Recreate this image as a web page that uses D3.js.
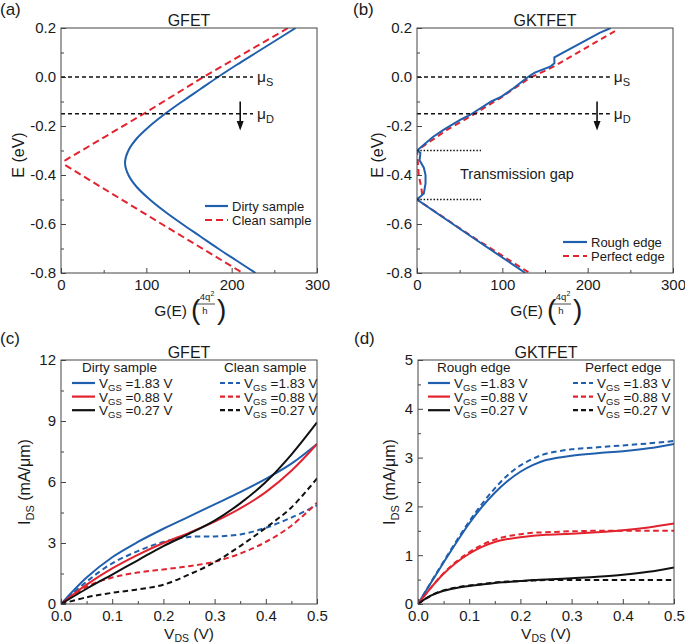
<!DOCTYPE html>
<html>
<head>
<meta charset="utf-8">
<script src="https://cdn.jsdelivr.net/npm/d3@7"></script>
<style>
  body { margin: 0; background: #fff; }
  svg { display: block; font-family: Arial, "Liberation Sans", sans-serif; }
</style>
</head>
<body>
<svg id="fig" width="685" height="644"></svg>
<script>
// ---- data ----
// (a) GFET transmission, [E (eV), G]
const dirtySample = [[0.2,275],[0.15,252],[0.1,229],[0.05,206],[0,184],[-0.05,163],[-0.1,142],[-0.15,122],[-0.2,104],[-0.25,89],[-0.3,79],[-0.35,75],[-0.4,79],[-0.45,89],[-0.5,104],[-0.55,122],[-0.6,142],[-0.65,163],[-0.7,184],[-0.75,206],[-0.8,228]];
const cleanSample = [[0.2,266],[0,167],[-0.15,97],[-0.34,5],[-0.36,5],[-0.6,118],[-0.8,213]];

// (b) GKTFET transmission, [E (eV), G]
const roughEdge = [[0.2,227],[0.18,214],[0.08,161],[0.056,161],[0.042,156],[0.018,138],[0,130],[-0.046,113],[-0.08,99],[-0.1,87],[-0.155,62],[-0.176,50],[-0.216,31],[-0.244,19],[-0.3,0],[-0.31,4],[-0.34,3],[-0.37,8],[-0.4,10],[-0.434,10],[-0.475,8],[-0.5,0],[-0.65,63],[-0.8,127]];
const perfectEdge = [[0.187,232],[0.137,207],[0.042,160],[-0.004,132],[-0.087,97],[-0.162,62],[-0.216,35],[-0.3,0],[-0.35,1],[-0.4,2],[-0.45,5],[-0.48,6],[-0.5,0],[-0.65,64],[-0.8,132]];

const muLevels = [{ e: 0, sub: "S" }, { e: -0.15, sub: "D" }];
const gapEdges = [-0.3, -0.5];

// (c) GFET I-V
const vdsC = [0, 0.05, 0.1, 0.15, 0.2, 0.25, 0.3, 0.35, 0.4, 0.45, 0.5];
const dirty183 = [0, 1.3, 2.3, 3.05, 3.7, 4.3, 4.9, 5.5, 6.15, 6.9, 7.87];
const dirty088 = [0, 0.95, 1.75, 2.42, 3.0, 3.5, 4.05, 4.7, 5.5, 6.55, 7.87];
const dirty027 = [0, 0.75, 1.45, 2.15, 2.85, 3.45, 4.1, 4.95, 6.0, 7.35, 8.93];
const clean183 = [0, 1.1, 2.0, 2.6, 3.05, 3.3, 3.32, 3.42, 3.75, 4.25, 4.85];
const clean088 = [0, 0.85, 1.3, 1.55, 1.7, 1.86, 2.08, 2.48, 3.05, 3.85, 4.98];
const clean027 = [0, 0.33, 0.55, 0.72, 0.95, 1.45, 2.05, 2.85, 3.75, 4.75, 6.18];

// (d) GKTFET I-V
const vdsD = [0, 0.025, 0.05, 0.075, 0.1, 0.125, 0.15, 0.175, 0.2, 0.225, 0.25, 0.3, 0.35, 0.4, 0.45, 0.5];
const rough183 = [0, 0.43, 0.85, 1.26, 1.65, 1.99, 2.28, 2.52, 2.71, 2.85, 2.95, 3.04, 3.09, 3.13, 3.19, 3.28];
const rough088 = [0, 0.33, 0.62, 0.85, 1.03, 1.17, 1.27, 1.33, 1.37, 1.4, 1.42, 1.44, 1.47, 1.51, 1.57, 1.65];
const rough027 = [0, 0.17, 0.27, 0.33, 0.37, 0.4, 0.43, 0.45, 0.47, 0.49, 0.5, 0.53, 0.56, 0.6, 0.66, 0.75];
const perfect183 = [0, 0.44, 0.87, 1.29, 1.69, 2.05, 2.37, 2.64, 2.84, 2.98, 3.08, 3.17, 3.21, 3.25, 3.29, 3.34];
const perfect088 = [0, 0.33, 0.63, 0.87, 1.06, 1.21, 1.32, 1.39, 1.43, 1.46, 1.47, 1.49, 1.5, 1.5, 1.5, 1.5];
const perfect027 = [0, 0.17, 0.28, 0.34, 0.38, 0.41, 0.44, 0.46, 0.47, 0.48, 0.49, 0.49, 0.49, 0.49, 0.49, 0.49];

const vgsLabels = ["1.83", "0.88", "0.27"];

// ---- drawing ----
const svg = d3.select("#fig");
const blue = "#1f5fad", red = "#e2232e", black = "#111";
const vgsColors = [blue, red, black];
const ink = "#1a1a1a";

function panel(p) {
  const x = d3.scaleLinear().domain(p.xDomain).range([p.left, p.right]);
  const y = d3.scaleLinear().domain(p.yDomain).range([p.bottom, p.top]);
  const g = svg.append("g");

  svg.append("clipPath").attr("id", "clip-" + p.name)
    .append("rect").attr("x", p.left).attr("y", p.top)
    .attr("width", p.right - p.left).attr("height", p.bottom - p.top);

  const tidy = sel => {
    sel.select(".domain").remove();
    sel.selectAll("line").attr("stroke", "#444");
    sel.selectAll("text").attr("fill", ink).style("font-size", "15px").style("font-family", "Arial, 'Liberation Sans', sans-serif");
  };
  g.append("g").attr("transform", `translate(0,${p.bottom})`)
    .call(d3.axisBottom(x).tickValues(p.xTicks).tickSize(-5).tickPadding(6).tickFormat(p.xFmt)).call(tidy);
  g.append("g").attr("transform", `translate(0,${p.bottom})`)
    .call(d3.axisBottom(x).tickValues(p.xMinor).tickSize(-3).tickFormat("")).call(tidy);
  g.append("g").attr("transform", `translate(${p.left},0)`)
    .call(d3.axisLeft(y).tickValues(p.yTicks).tickSize(-5).tickPadding(5).tickFormat(p.yFmt)).call(tidy);
  g.append("g").attr("transform", `translate(${p.left},0)`)
    .call(d3.axisLeft(y).tickValues(p.yMinor).tickSize(-3).tickFormat("")).call(tidy);

  const plot = g.append("g").attr("clip-path", `url(#clip-${p.name})`);

  g.append("text").attr("x", (p.left + p.right) / 2).attr("y", p.top - 2)
    .attr("text-anchor", "middle").style("font-size", "16px").attr("fill", ink).text(p.title);
  g.append("text").attr("x", p.labelX).attr("y", p.labelY)
    .style("font-size", "17px").attr("fill", ink).text(p.label);

  return { g, plot, x, y, p };
}

function frame(P) {
  const p = P.p;
  P.g.append("rect").attr("x", p.left).attr("y", p.top)
    .attr("width", p.right - p.left).attr("height", p.bottom - p.top)
    .attr("fill", "none").attr("stroke", "#444").attr("stroke-width", 1);
}

const fmt1 = d => d.toFixed(1);
const fmt0 = d => String(d);

function gAxisTitle(P, cx, baseY) {
  const t = P.g.append("g").attr("fill", ink);
  t.append("text").attr("x", cx - 14).attr("y", baseY).attr("text-anchor", "end")
    .style("font-size", "15.5px").text("G(E)");
  t.append("text").attr("x", cx - 10).attr("y", baseY + 3).style("font-size", "28px")
    .style("font-weight", "300").text("(");
  t.append("text").attr("x", cx + 4).attr("y", baseY - 16).attr("text-anchor", "middle")
    .style("font-size", "9.5px").text("4q");
  t.append("text").attr("x", cx + 9.5).attr("y", baseY - 20).style("font-size", "7px").text("2");
  t.append("line").attr("x1", cx - 5).attr("x2", cx + 14).attr("y1", baseY - 12).attr("y2", baseY - 12)
    .attr("stroke", ink).attr("stroke-width", 0.8);
  t.append("text").attr("x", cx + 4).attr("y", baseY - 2).attr("text-anchor", "middle")
    .style("font-size", "9.5px").text("h");
  t.append("text").attr("x", cx + 16).attr("y", baseY + 3).style("font-size", "28px")
    .style("font-weight", "300").text(")");
}

function yTitleRot(P, x, cy, parts) {
  const t = P.g.append("text").attr("transform", `translate(${x},${cy}) rotate(-90)`)
    .attr("text-anchor", "middle").attr("fill", ink).style("font-size", "16px");
  parts(t);
}

// ---------- (a) and (b) ----------
const topRowOpts = {
  xDomain: [0, 300], yDomain: [-0.8, 0.2], top: 28, bottom: 273,
  xTicks: [0, 100, 200, 300], xMinor: [50, 150, 250],
  yTicks: [0.2, 0, -0.2, -0.4, -0.6, -0.8], yMinor: [0.1, -0.1, -0.3, -0.5, -0.7],
  xFmt: fmt0, yFmt: fmt1
};
const A = panel(Object.assign({}, topRowOpts, { name: "a", left: 61, right: 317, title: "GFET", label: "(a)", labelX: 0, labelY: 15 }));
const B = panel(Object.assign({}, topRowOpts, { name: "b", left: 417, right: 673, title: "GKTFET", label: "(b)", labelX: 353, labelY: 15 }));

function gLine(P, curve) {
  return d3.line().x(d => P.x(d[1])).y(d => P.y(d[0])).curve(curve);
}

// chemical potential levels and the arrow
function muMarks(P, endG, arrowG) {
  muLevels.forEach(m => {
    P.g.append("line").attr("x1", P.x(0)).attr("x2", P.x(endG))
      .attr("y1", P.y(m.e)).attr("y2", P.y(m.e))
      .attr("stroke", black).attr("stroke-width", 1.4).attr("stroke-dasharray", "4,3");
    const t = P.g.append("text").attr("x", P.x(endG) + 4).attr("y", P.y(m.e) + 5)
      .attr("fill", ink).style("font-size", "15.5px");
    t.append("tspan").text("\u03bc");
    t.append("tspan").attr("dy", 4).style("font-size", "11px").text(m.sub);
  });
  const ax = P.x(arrowG);
  P.g.append("line").attr("x1", ax).attr("x2", ax).attr("y1", P.y(-0.1)).attr("y2", P.y(-0.19))
    .attr("stroke", black).attr("stroke-width", 1.6);
  P.g.append("path")
    .attr("d", `M${ax - 3.5},${P.y(-0.18)} L${ax + 3.5},${P.y(-0.18)} L${ax},${P.y(-0.218)} Z`)
    .attr("fill", black);
}

function legendTop(P, x0, x1, y0, items) {
  items.forEach((it, i) => {
    const yy = y0 + i * 14;
    P.g.append("line").attr("x1", x0).attr("x2", x1).attr("y1", yy).attr("y2", yy)
      .attr("stroke", it.color).attr("stroke-width", 2.2).attr("stroke-dasharray", it.dash || null);
    P.g.append("text").attr("x", x1 + 4).attr("y", yy).attr("dy", "0.35em")
      .attr("fill", ink).style("font-size", "13px").text(it.name);
  });
}

muMarks(A, 225, 210);
A.plot.append("path").datum(cleanSample).attr("d", gLine(A, d3.curveLinear))
  .attr("fill", "none").attr("stroke", red).attr("stroke-width", 2).attr("stroke-dasharray", "7,4");
A.plot.append("path").datum(dirtySample).attr("d", gLine(A, d3.curveCatmullRom))
  .attr("fill", "none").attr("stroke", blue).attr("stroke-width", 2);
legendTop(A, 205, 228, 206, [{ name: "Dirty sample", color: blue }, { name: "Clean sample", color: red, dash: "7,4" }]);
gAxisTitle(A, 201, 316);
yTitleRot(A, 24, 155, t => t.text("E (eV)"));
frame(A);

muMarks(B, 226, 211);
gapEdges.forEach(e => {
  B.g.append("line").attr("x1", B.x(0)).attr("x2", B.x(75)).attr("y1", B.y(e)).attr("y2", B.y(e))
    .attr("stroke", black).attr("stroke-width", 1.4).attr("stroke-dasharray", "1.5,1.8");
});
B.g.append("text").attr("x", 460).attr("y", 179).attr("fill", ink)
  .style("font-size", "14.5px").text("Transmission gap");
B.plot.append("path").datum(perfectEdge).attr("d", gLine(B, d3.curveLinear))
  .attr("fill", "none").attr("stroke", red).attr("stroke-width", 2).attr("stroke-dasharray", "6,4");
B.plot.append("path").datum(roughEdge).attr("d", gLine(B, d3.curveLinear))
  .attr("fill", "none").attr("stroke", blue).attr("stroke-width", 2);
legendTop(B, 563, 587, 242, [{ name: "Rough edge", color: blue }, { name: "Perfect edge", color: red, dash: "6,4" }]);
gAxisTitle(B, 557, 316);
yTitleRot(B, 383, 155, t => t.text("E (eV)"));
frame(B);

// ---------- (c) and (d) ----------
const ivX = { xDomain: [0, 0.5], top: 360, bottom: 604, xTicks: [0, 0.1, 0.2, 0.3, 0.4, 0.5], xMinor: [0.05, 0.15, 0.25, 0.35, 0.45], xFmt: fmt1 };
const C = panel(Object.assign({}, ivX, { name: "c", left: 61, right: 317, yDomain: [0, 12], yTicks: [0, 3, 6, 9, 12], yMinor: [1.5, 4.5, 7.5, 10.5], yFmt: fmt0, title: "GFET", label: "(c)", labelX: 0, labelY: 344 }));
const D = panel(Object.assign({}, ivX, { name: "d", left: 418, right: 674, yDomain: [0, 5], yTicks: [0, 1, 2, 3, 4, 5], yMinor: [0.5, 1.5, 2.5, 3.5, 4.5], yFmt: fmt0, title: "GKTFET", label: "(d)", labelX: 354, labelY: 344 }));

function ivCurves(P, xs, solid, dashed) {
  const line = d3.line().x((d, i) => P.x(xs[i])).y(d => P.y(d)).curve(d3.curveCatmullRom.alpha(0.5));
  dashed.forEach((s, i) => P.plot.append("path").datum(s).attr("d", line)
    .attr("fill", "none").attr("stroke", vgsColors[i]).attr("stroke-width", 2).attr("stroke-dasharray", "5.5,3.5"));
  solid.forEach((s, i) => P.plot.append("path").datum(s).attr("d", line)
    .attr("fill", "none").attr("stroke", vgsColors[i]).attr("stroke-width", 2));
}
ivCurves(C, vdsC, [dirty183, dirty088, dirty027], [clean183, clean088, clean027]);
ivCurves(D, vdsD, [rough183, rough088, rough027], [perfect183, perfect088, perfect027]);

function ivLegend(P, head, hx, lx0, lx1, dash) {
  P.g.append("text").attr("x", hx).attr("y", 372).attr("fill", ink)
    .style("font-size", "13.5px").text(head);
  vgsLabels.forEach((v, i) => {
    const yy = 383 + i * 13.6;
    P.g.append("line").attr("x1", lx0).attr("x2", lx1).attr("y1", yy).attr("y2", yy)
      .attr("stroke", vgsColors[i]).attr("stroke-width", 2.2).attr("stroke-dasharray", dash ? "5,3" : null);
    const t = P.g.append("text").attr("x", lx1 + 4).attr("y", yy + 5).attr("fill", ink).style("font-size", "13.5px");
    t.append("tspan").text("V");
    t.append("tspan").attr("dy", 3).style("font-size", "9.5px").text("GS");
    t.append("tspan").attr("dy", -3).text(" =" + v + " V");
  });
}
ivLegend(C, "Dirty sample", 82, 72, 95, false);
ivLegend(C, "Clean sample", 224, 220, 240, true);
ivLegend(D, "Rough edge", 437, 428, 450, false);
ivLegend(D, "Perfect edge", 585, 573, 593, true);

function ivTitles(P, cx, yx) {
  const t = P.g.append("text").attr("x", cx).attr("y", 638.5).attr("text-anchor", "middle")
    .attr("fill", ink).style("font-size", "15.5px");
  t.append("tspan").text("V");
  t.append("tspan").attr("dy", 3.5).style("font-size", "10.5px").text("DS");
  t.append("tspan").attr("dy", -3.5).text(" (V)");
  yTitleRot(P, yx, 482, s => {
    s.append("tspan").text("I");
    s.append("tspan").attr("dy", 4).style("font-size", "11px").text("DS");
    s.append("tspan").attr("dy", -4).text(" (mA/\u03bcm)");
  });
}
ivTitles(C, 189, 30);
ivTitles(D, 546, 395);
frame(C);
frame(D);
</script>
</body>
</html>
